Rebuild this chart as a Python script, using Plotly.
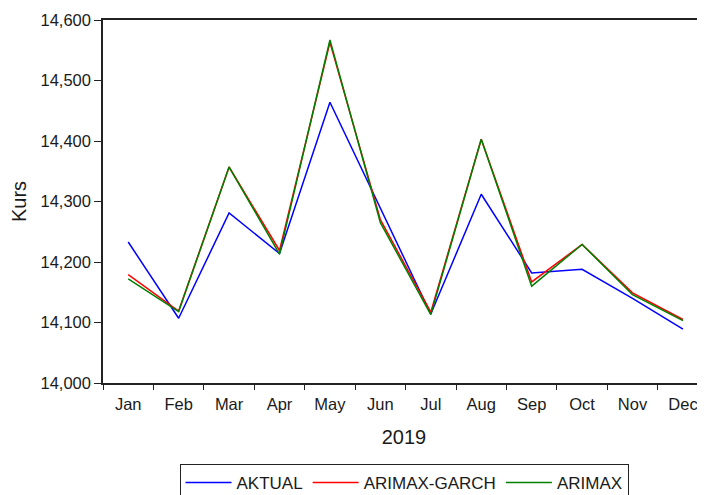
import plotly.graph_objects as go

months = ["Jan", "Feb", "Mar", "Apr", "May", "Jun", "Jul", "Aug", "Sep", "Oct", "Nov", "Dec"]
aktual = [14233, 14107, 14281, 14214, 14464, 14290, 14114, 14312, 14182, 14188, 14140, 14089]
arimax_garch = [14179, 14119, 14357, 14219, 14563, 14270, 14117, 14403, 14167, 14229, 14149, 14105]
arimax = [14172, 14118, 14357, 14213, 14567, 14265, 14113, 14403, 14160, 14229, 14146, 14103]
y_ticks = [14000, 14100, 14200, 14300, 14400, 14500, 14600]

FONT = "Liberation Sans, Arial, sans-serif"

fig = go.Figure()
fig.add_trace(go.Scatter(x=months, y=aktual, mode="lines", name="AKTUAL",
                         line=dict(color="#0000FF", width=1.5)))
fig.add_trace(go.Scatter(x=months, y=arimax_garch, mode="lines", name="ARIMAX-GARCH",
                         line=dict(color="#FF0000", width=1.5)))
fig.add_trace(go.Scatter(x=months, y=arimax, mode="lines", name="ARIMAX",
                         line=dict(color="#008000", width=1.5)))

# page body adds an 8px margin, so the figure is sized/placed to compensate
fig.update_layout(
    width=697, height=487,
    margin=dict(l=95, r=0, t=12, b=112, autoexpand=False),
    paper_bgcolor="white", plot_bgcolor="white",
    font=dict(family=FONT, size=16.5, color="#1a1a1a"),
    showlegend=True,
    legend=dict(orientation="h", x=0.5, xref="paper", xanchor="center",
                y=0.0637, yref="container", yanchor="top",
                bordercolor="#222", borderwidth=1, font=dict(size=17),
                itemwidth=46, tracegroupgap=0),
    xaxis=dict(type="category", range=[-0.5, 11.437], showline=True, mirror=True,
               linecolor="#222", linewidth=1.5, showgrid=False, zeroline=False,
               ticks="outside", ticklen=5, tickcolor="#222", tickson="boundaries",
               ticklabelstandoff=5, automargin=False,
               title=dict(text="2019", standoff=18)),
    yaxis=dict(range=[14000, 14600], tickvals=y_ticks, tickformat=",",
               showline=True, mirror=False, linecolor="#222", linewidth=1.5,
               showgrid=False, zeroline=False, ticks="outside", ticklen=7,
               tickcolor="#222", ticklabelstandoff=0, automargin=True,
               title=dict(text="Kurs", standoff=8)),
)

fig.write_html("out.html")
